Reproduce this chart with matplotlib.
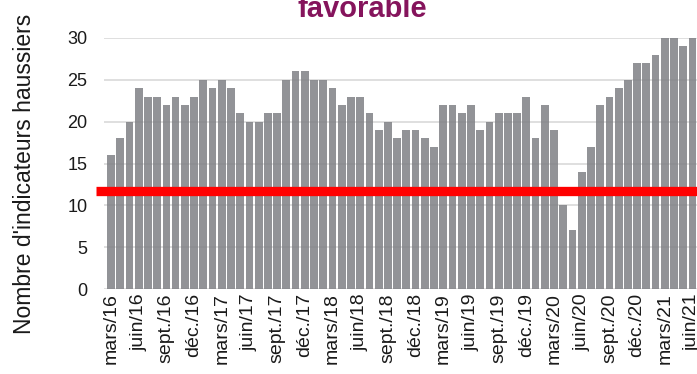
import matplotlib
matplotlib.use('Agg')
import numpy as np
import matplotlib.pyplot as plt

plt.rcParams['font.family'] = ['Liberation Sans', 'DejaVu Sans']

# nombre d'indicateurs haussiers, mensuel de mars/16 à juin/21
values = [16, 18, 20, 24, 23, 23, 22, 23, 22, 23,
          25, 24, 25, 24, 21, 20, 20, 21, 21, 25, 26, 26,
          25, 25, 24, 22, 23, 23, 21, 19, 20, 18, 19, 19,
          18, 17, 22, 22, 21, 22, 19, 20, 21, 21, 21, 23,
          18, 22, 19, 10, 7, 14, 17, 22, 23, 24, 25, 27,
          27, 28, 30, 30, 29, 30]
tick_labels = ['mars/16', 'juin/16', 'sept./16', 'déc./16',
               'mars/17', 'juin/17', 'sept./17', 'déc./17',
               'mars/18', 'juin/18', 'sept./18', 'déc./18',
               'mars/19', 'juin/19', 'sept./19', 'déc./19',
               'mars/20', 'juin/20', 'sept./20', 'déc./20',
               'mars/21', 'juin/21']
threshold = 11.7

W, H = 697, 374
fig = plt.figure(figsize=(W / 100, H / 100), dpi=100)
ax = fig.add_axes([104 / W, 85 / H, (W - 104) / W, 251 / H])

x = np.arange(len(values))
ax.bar(x, values, width=0.84, color='#7f8085', alpha=0.85, zorder=2)
ax.set_axisbelow(True)
ax.yaxis.grid(True, color='#d9d9d9', linewidth=1.2, zorder=0)

# seuil rouge
ax.plot([-1.63, 63.49], [threshold, threshold], color='#ff0000', linewidth=6.7,
        solid_capstyle='butt', clip_on=False, zorder=3)

ax.set_xlim(-0.76, 63.49)
ax.set_ylim(0, 30)
ax.set_yticks(range(0, 31, 5))
ax.set_xticks(x[::3])
ax.set_xticklabels(tick_labels, rotation=90, fontsize=14, color='#1a1a1a')
ax.tick_params(axis='y', length=0, pad=12, labelsize=13, labelcolor='#1a1a1a')
ax.tick_params(axis='x', length=0, pad=3)
for s in ax.spines.values():
    s.set_visible(False)

ax.set_ylabel("Nombre d'indicateurs haussiers", fontsize=16.5, color='#1a1a1a')
ax.yaxis.set_label_coords(-(104 - 36) / (W - 104), 0.46)

fig.text(362 / W, 1 - 17 / H, 'favorable', ha='center', va='baseline',
         fontsize=21, fontweight='bold', color='#85145c')

fig.savefig('out.png', dpi=100)
